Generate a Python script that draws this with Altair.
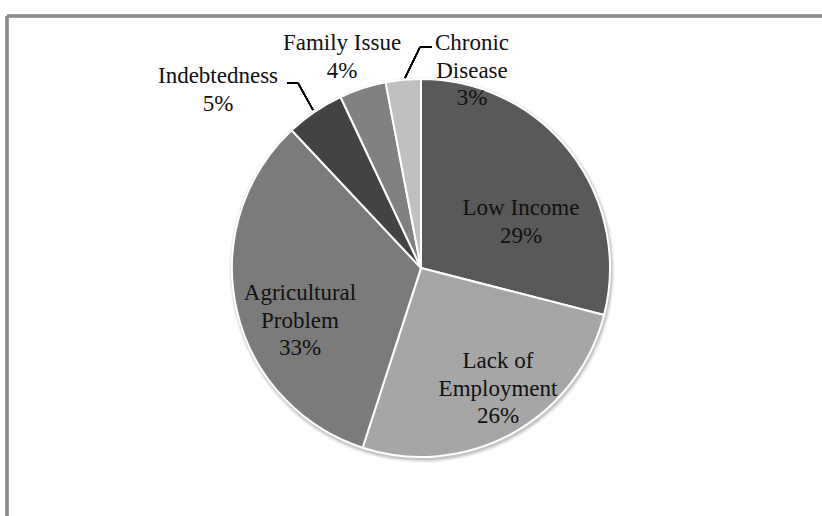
import altair as alt
import pandas as pd

# ---- data ----
categories = ["Low Income", "Lack of Employment", "Agricultural Problem",
              "Indebtedness", "Family Issue", "Chronic Disease"]
values = [29, 26, 33, 5, 4, 3]
label_lines = [["Low Income"], ["Lack of", "Employment"], ["Agricultural", "Problem"],
               ["Indebtedness"], ["Family Issue"], ["Chronic", "Disease"]]

# ---- styling / layout ----
colors = ["#595959", "#a6a6a6", "#7b7b7b", "#434343", "#818181", "#c0c0c0"]
W, H = 822, 516
CX, CY, R = 421, 268, 189
FONT = "'Times New Roman', 'Liberation Serif', 'DejaVu Serif', serif"
FS = 23
LH = 27.5
# first-line baseline anchor for each label block
label_anchor = [(521, 215), (498, 368), (300, 300), (218, 83), (342, 50), (472, 50)]

df = pd.DataFrame({"cat": categories, "value": values, "ord": list(range(len(values)))})

base = alt.Chart(df)

shadow = alt.layer(*[
    base.mark_arc(color="#000000", opacity=op, radius=R + dr).encode(
        theta=alt.Theta("value:Q", stack=True),
        order=alt.Order("ord:Q"),
        x=alt.value(CX + 1), y=alt.value(CY + 2),
    )
    for dr, op in [(4, 0.03), (3, 0.05), (2, 0.07), (1, 0.09)]
])

pie = base.mark_arc(radius=R, stroke="white", strokeWidth=2).encode(
    theta=alt.Theta("value:Q", stack=True),
    color=alt.Color("cat:N", scale=alt.Scale(domain=categories, range=colors), legend=None),
    order=alt.Order("ord:Q"),
    x=alt.value(CX), y=alt.value(CY),
)

lab_df = pd.DataFrame({
    "text": [lines + [f"{v}%"] for lines, v in zip(label_lines, values)],
    "lx": [a[0] for a in label_anchor],
    "ly": [a[1] for a in label_anchor],
})
labels = alt.Chart(lab_df).mark_text(
    font=FONT, fontSize=FS, lineHeight=LH, align="center", baseline="alphabetic", color="#111111"
).encode(
    x=alt.X("lx:Q", scale=None), y=alt.Y("ly:Q", scale=None), text="text"
)

line_style = dict(color="#000000", strokeWidth=1.5)
leaders = alt.layer(
    base.mark_rule(**line_style).encode(x=alt.value(287), x2=alt.value(298), y=alt.value(83), y2=alt.value(83)),
    base.mark_rule(**line_style).encode(x=alt.value(298), x2=alt.value(313), y=alt.value(83), y2=alt.value(110)),
    base.mark_rule(**line_style).encode(x=alt.value(420), x2=alt.value(432), y=alt.value(47), y2=alt.value(47)),
    base.mark_rule(**line_style).encode(x=alt.value(420), x2=alt.value(405), y=alt.value(47), y2=alt.value(78)),
)

frame_style = dict(color="#8c8c8c", strokeWidth=2.5)
frame = alt.layer(
    base.mark_rule(**frame_style).encode(x=alt.value(7), x2=alt.value(W), y=alt.value(16)),
    base.mark_rule(**frame_style).encode(x=alt.value(7), y=alt.value(16), y2=alt.value(H)),
)

chart = alt.layer(frame, shadow, pie, labels, leaders).properties(
    width=W, height=H, autosize=alt.AutoSizeParams(type="none"), padding=0,
    background="white",
).configure_view(stroke=None)

chart.save("out.html", embed_options={"renderer": "svg", "actions": False})
